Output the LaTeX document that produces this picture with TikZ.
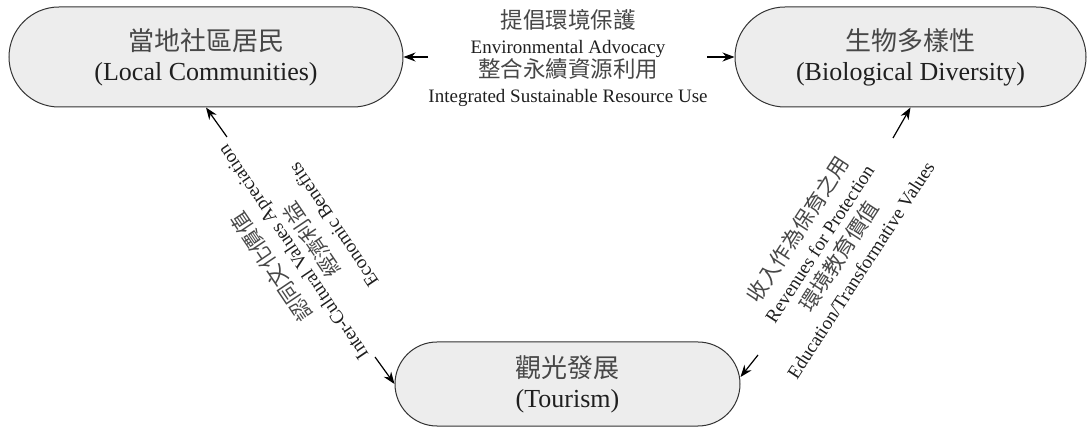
\documentclass[tikz,border=0pt]{standalone}
\usepackage{fontspec}
\setmainfont{Liberation Serif}
\newfontfamily\cjk{Noto Sans CJK TC}
\usetikzlibrary{arrows.meta,calc}
\begin{document}
\begin{tikzpicture}[x=1pt,y=-1pt,
  box/.style={draw=black!80, line width=1pt, fill=black!7, text=black!88, align=center,
    font=\fontsize{26}{30}\selectfont, inner sep=0pt},
  arr/.style={draw=black, line width=1.2pt, -{Stealth[length=12pt,width=9pt]}},
  lbl/.style={text=black!88, align=center, font=\fontsize{19}{24.5}\selectfont, inner sep=0pt},
  zh/.style={text=black!72},
]
\useasboundingbox (0,0) rectangle (1087,427);
\node[box, minimum width=394pt, minimum height=100pt, rounded corners=50pt] (L) at (206,57)
  {{\cjk\color{black!72}當地社區居民}\\(Local Communities)};
\node[box, minimum width=351pt, minimum height=100pt, rounded corners=50pt] (R) at (910.5,57)
  {{\cjk\color{black!72}生物多樣性}\\(Biological Diversity)};
\node[box, minimum width=345pt, minimum height=84pt, rounded corners=42pt] (T) at (567.5,384)
  {{\cjk\color{black!72}觀光發展}\\(Tourism)};

\node[lbl] (M) at (568,58)
  {{\cjk\color{black!72}\fontsize{22.5}{24.5}\selectfont 提倡環境保護}\\Environmental Advocacy\\{\cjk\color{black!72}\fontsize{22.5}{24.5}\selectfont 整合永續資源利用}\\Integrated Sustainable Resource Use};

\node[lbl, rotate=124] (DL) at (301,247)
  {{\cjk\color{black!72}\fontsize{21}{24.5}\selectfont 認同文化價值}\\Inter-Cultural Values Apreciation\\{\cjk\color{black!72}\fontsize{21}{24.5}\selectfont 經濟利益}\\Economic Benefits};
\node[lbl, rotate=57] (DR) at (828,249)
  {{\cjk\color{black!72}\fontsize{21}{24.5}\selectfont 收入作為保育之用}\\Revenues for Protection\\{\cjk\color{black!72}\fontsize{21}{24.5}\selectfont 環境教育價值}\\Education/Transformative Values};

\coordinate (t1) at (428,57);
\coordinate (t2) at (707,57);
\coordinate (t3) at (227,137);
\coordinate (t4) at (375,357);
\coordinate (t5) at (758,355);
\coordinate (t6) at (893,138);
\draw[arr] (t1) -- (L.east);
\draw[arr] (t2) -- (R.west);
\draw[arr] (t3) -- (L.south);
\draw[arr] (t4) -- (T.west);
\draw[arr] (t5) -- ($(T.east)+(0,-7)$);
\draw[arr] (t6) -- (R.south);
\end{tikzpicture}
\end{document}
